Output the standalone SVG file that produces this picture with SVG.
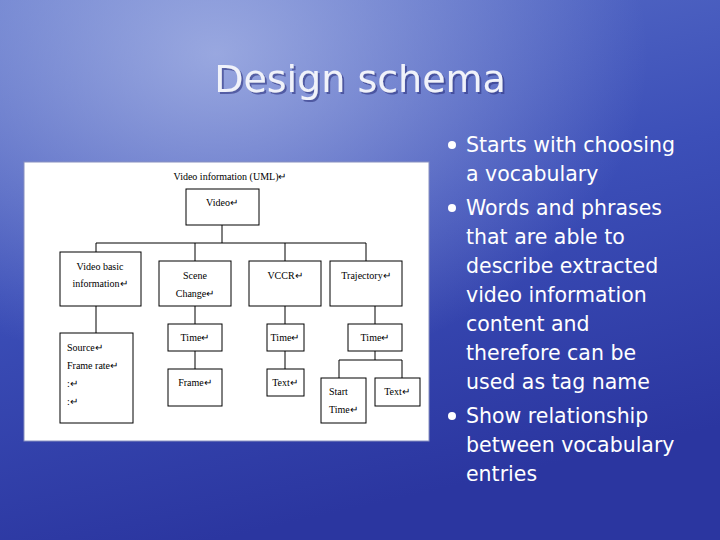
<svg xmlns="http://www.w3.org/2000/svg" width="720" height="540" viewBox="0 0 720 540">
<defs>
<linearGradient id="bg" x1="0" y1="0" x2="0.3" y2="1">
<stop offset="0" stop-color="#5a70c8"/><stop offset="0.5" stop-color="#3c4fb8"/><stop offset="1" stop-color="#2b36a0"/>
</linearGradient>
<radialGradient id="glow" cx="0.3" cy="0.1" r="0.6">
<stop offset="0" stop-color="#b8c4ec" stop-opacity="0.7"/><stop offset="1" stop-color="#b8c4ec" stop-opacity="0"/>
</radialGradient>
<filter id="sh" x="-10%" y="-20%" width="120%" height="150%"><feDropShadow dx="2" dy="2" stdDeviation="0.5" flood-color="#2a3080" flood-opacity="0.6"/></filter>
</defs>
<style>
.b{fill:#fff;stroke:#000;stroke-width:1}
.c{stroke:#000;stroke-width:1;fill:none}
.t{font-family:"Liberation Serif",serif;font-size:10px;fill:#000;text-anchor:middle}
.tl{font-family:"Liberation Serif",serif;font-size:10px;fill:#000}
.bu{font-family:"DejaVu Sans",Verdana,sans-serif;font-size:20.5px;fill:#fff}
</style>
<rect width="720" height="540" fill="url(#bg)"/>
<rect width="720" height="540" fill="url(#glow)"/>
<text x="360" y="92" font-family="DejaVu Sans,sans-serif" font-size="38" fill="#f0f2fa" text-anchor="middle" filter="url(#sh)">Design schema</text>
<g id="bullets">
<circle cx="452" cy="145" r="4" fill="#fff"/><circle cx="452" cy="208" r="4" fill="#fff"/><circle cx="452" cy="416" r="4" fill="#fff"/>
<text class="bu" x="466" y="152">Starts with choosing</text>
<text class="bu" x="466" y="181">a vocabulary</text>
<text class="bu" x="466" y="215">Words and phrases</text>
<text class="bu" x="466" y="244">that are able to</text>
<text class="bu" x="466" y="273">describe extracted</text>
<text class="bu" x="466" y="302">video information</text>
<text class="bu" x="466" y="331">content and</text>
<text class="bu" x="466" y="360">therefore can be</text>
<text class="bu" x="466" y="389">used as tag name</text>
<text class="bu" x="466" y="423">Show relationship</text>
<text class="bu" x="466" y="452">between vocabulary</text>
<text class="bu" x="466" y="481">entries</text>
</g>
<rect x="24" y="162" width="405" height="279" fill="#fff" stroke="#8890c0"/>
<text class="t" x="230" y="180">Video information (UML)↵</text>
<g id="connectors">
<path class="c" d="M222 225V243M96 243H366M96 243V252M195 243V261M285 243V261M366 243V261M96 306V333M195 306V324M195 351V369M285 306V324M285 351V369M375 306V324M375 351V360M339 360H402M339 360V378M402 360V378"/>
</g>
<g id="video"><rect class="b" x="186" y="189" width="73" height="36"/><text class="t" x="222" y="206">Video↵</text></g>
<g id="basic"><rect class="b" x="60" y="252" width="81" height="54"/><text class="t" x="100" y="270">Video basic</text><text class="t" x="100" y="287">information↵</text></g>
<g id="scene"><rect class="b" x="159" y="261" width="72" height="45"/><text class="t" x="195" y="279">Scene</text><text class="t" x="195" y="297">Change↵</text></g>
<g id="vccr"><rect class="b" x="249" y="261" width="72" height="45"/><text class="t" x="285" y="279">VCCR↵</text></g>
<g id="traj"><rect class="b" x="330" y="261" width="72" height="45"/><text class="t" x="366" y="279">Trajectory↵</text></g>
<g id="source"><rect class="b" x="60" y="333" width="73" height="90"/><text class="tl" x="67" y="351">Source↵</text><text class="tl" x="67" y="369">Frame rate↵</text><text class="tl" x="67" y="387">:↵</text><text class="tl" x="67" y="405">:↵</text></g>
<g id="time1"><rect class="b" x="168" y="324" width="54" height="27"/><text class="t" x="195" y="341">Time↵</text></g>
<g id="frame"><rect class="b" x="168" y="369" width="54" height="37"/><text class="t" x="195" y="386">Frame↵</text></g>
<g id="time2"><rect class="b" x="267" y="324" width="37" height="27"/><text class="t" x="285" y="341">Time↵</text></g>
<g id="text2"><rect class="b" x="267" y="369" width="37" height="27"/><text class="t" x="285" y="386">Text↵</text></g>
<g id="time3"><rect class="b" x="348" y="324" width="54" height="27"/><text class="t" x="375" y="341">Time↵</text></g>
<g id="start"><rect class="b" x="321" y="378" width="45" height="45"/><text class="tl" x="329" y="395">Start</text><text class="tl" x="329" y="413">Time↵</text></g>
<g id="text3"><rect class="b" x="375" y="378" width="45" height="28"/><text class="t" x="397" y="395">Text↵</text></g>
</svg>
